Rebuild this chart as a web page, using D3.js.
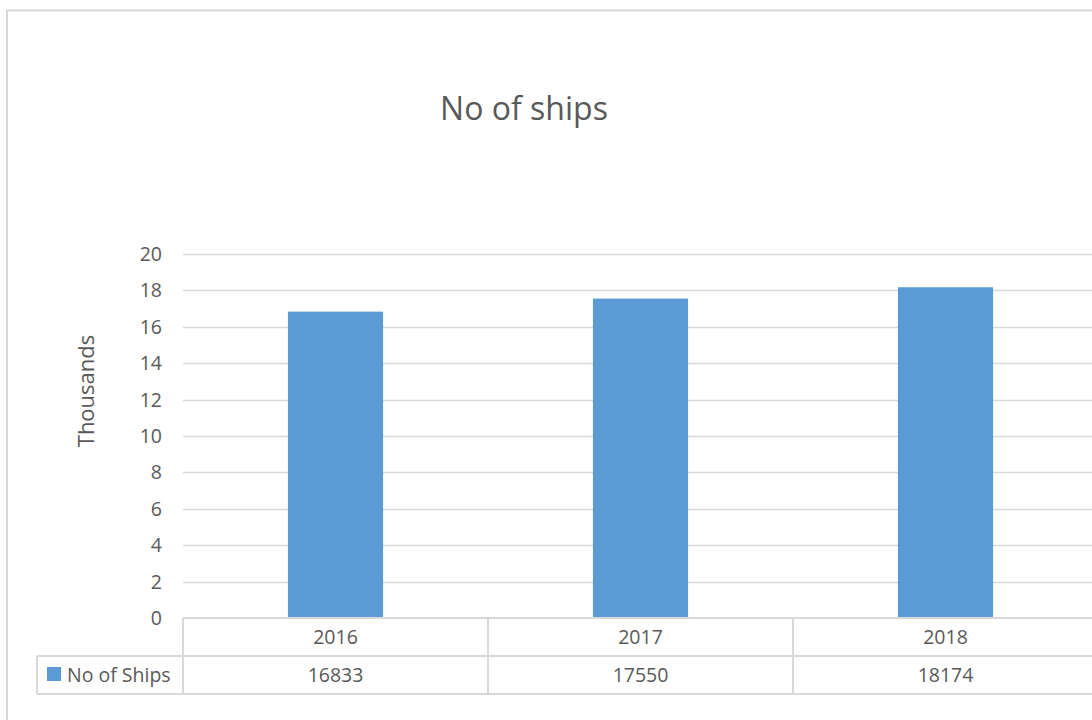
<!DOCTYPE html>
<html>
<head>
<meta charset="utf-8">
<script src="https://cdn.jsdelivr.net/npm/d3@7"></script>
<style>
  body { margin: 0; background: #fff; }
  text { font-family: "Open Sans", Lato, sans-serif; fill: #595959; }
</style>
</head>
<body>
<div id="chart"></div>
<script>
// chart data
const years = ["2016", "2017", "2018"];
const ships = [16833, 17550, 18174];
const yTicks = [0, 2, 4, 6, 8, 10, 12, 14, 16, 18, 20];
const seriesName = "No of Ships";

const width = 1092, height = 720;
const plot = {left: 183, right: 1098, top: 254, bottom: 618};
const rowH = 38;
const gridColor = "#d9d9d9";
const barColor = "#5b9bd5";
const labelSize = "19.5px";

const svg = d3.select("#chart")
    .append("svg")
    .attr("width", width)
    .attr("height", height);

// outer chart border
svg.append("rect")
    .attr("x", 7)
    .attr("y", 10.5)
    .attr("width", 1200)
    .attr("height", 800)
    .attr("fill", "none")
    .attr("stroke", gridColor)
    .attr("stroke-width", 2);

svg.append("text")
    .attr("x", 524)
    .attr("y", 120)
    .attr("text-anchor", "middle")
    .style("font-size", "32px")
    .text("No of ships");

const x = d3.scaleBand()
    .domain(years)
    .range([plot.left, plot.right])
    .padding(0);

const y = d3.scaleLinear()
    .domain([0, 20])
    .range([plot.bottom, plot.top]);

// gridlines
svg.append("g")
    .selectAll("line")
    .data(yTicks.filter(d => d > 0))
    .enter()
    .append("line")
    .attr("x1", plot.left)
    .attr("x2", plot.right)
    .attr("y1", d => Math.round(y(d)) + 0.5)
    .attr("y2", d => Math.round(y(d)) + 0.5)
    .attr("stroke", gridColor)
    .attr("stroke-width", 1.5);

// y tick labels
svg.append("g")
    .selectAll("text")
    .data(yTicks)
    .enter()
    .append("text")
    .attr("x", 162)
    .attr("y", d => y(d) + 7)
    .attr("text-anchor", "end")
    .style("font-size", labelSize)
    .text(d => d);

svg.append("text")
    .attr("transform", "rotate(-90)")
    .attr("x", -391)
    .attr("y", 94)
    .attr("text-anchor", "middle")
    .style("font-size", "22px")
    .text("Thousands");

// bars
const barW = x.bandwidth() * 0.312;
svg.selectAll(".bar")
    .data(ships)
    .enter()
    .append("rect")
    .attr("class", "bar")
    .attr("x", (d, i) => x(years[i]) + (x.bandwidth() - barW) / 2)
    .attr("y", d => y(d / 1000))
    .attr("width", barW)
    .attr("height", d => y(0) - y(d / 1000))
    .attr("fill", barColor);

// data table
const table = svg.append("g")
    .attr("stroke", gridColor)
    .attr("stroke-width", 2);
const tTop = plot.bottom, tMid = plot.bottom + rowH, tBot = plot.bottom + 2 * rowH;
const legLeft = 37;

table.append("line").attr("x1", plot.left).attr("x2", plot.right).attr("y1", tTop).attr("y2", tTop);
table.append("line").attr("x1", legLeft).attr("x2", plot.right).attr("y1", tMid).attr("y2", tMid);
table.append("line").attr("x1", legLeft).attr("x2", plot.right).attr("y1", tBot).attr("y2", tBot);
table.append("line").attr("x1", legLeft).attr("x2", legLeft).attr("y1", tMid).attr("y2", tBot);
table.selectAll(".vline")
    .data(years.concat(["end"]))
    .enter()
    .append("line")
    .attr("x1", (d, i) => i < years.length ? x(d) : plot.right)
    .attr("x2", (d, i) => i < years.length ? x(d) : plot.right)
    .attr("y1", tTop)
    .attr("y2", tBot);

svg.selectAll(".yearLabel")
    .data(years)
    .enter()
    .append("text")
    .attr("x", d => x(d) + x.bandwidth() / 2)
    .attr("y", tTop + 26)
    .attr("text-anchor", "middle")
    .style("font-size", labelSize)
    .text(d => d);

svg.selectAll(".valLabel")
    .data(ships)
    .enter()
    .append("text")
    .attr("x", (d, i) => x(years[i]) + x.bandwidth() / 2)
    .attr("y", tMid + 26)
    .attr("text-anchor", "middle")
    .style("font-size", labelSize)
    .text(d => d);

// legend key
svg.append("rect")
    .attr("x", 47)
    .attr("y", 667)
    .attr("width", 14)
    .attr("height", 14)
    .attr("fill", barColor);
svg.append("text")
    .attr("x", 67)
    .attr("y", tMid + 26)
    .style("font-size", labelSize)
    .text(seriesName);
</script>
</body>
</html>
